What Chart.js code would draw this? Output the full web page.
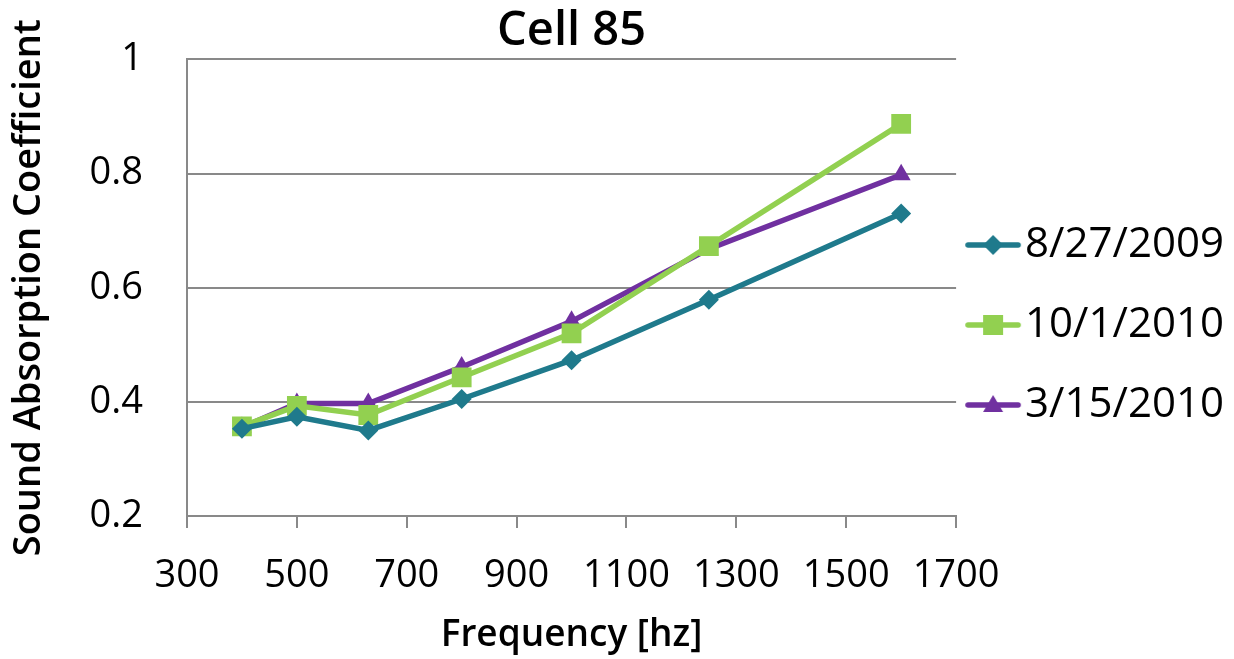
<!DOCTYPE html>
<html>
<head>
<meta charset="utf-8">
<script src="https://cdn.jsdelivr.net/npm/chart.js@4/dist/chart.umd.min.js"></script>
<style>
  html, body { margin: 0; padding: 0; background: #fff; }
  #wrap { width: 1234px; height: 659px; }
</style>
</head>
<body>
<div id="wrap"><canvas id="myChart"></canvas></div>
<script>
freqs = [400, 500, 630, 800, 1000, 1250, 1600];
seriesNames = ["8/27/2009", "10/1/2010", "3/15/2010"];
cell85_2009 = [0.353, 0.374, 0.350, 0.405, 0.473, 0.579, 0.730];
cell85_oct2010 = [0.357, 0.393, 0.377, 0.443, 0.520, 0.673, 0.887];
cell85_mar2010 = [0.355, 0.397, 0.397, 0.461, 0.541, 0.668, 0.798];
xTicks = [300, 500, 700, 900, 1100, 1300, 1500, 1700];
yTicks = [0.2, 0.4, 0.6, 0.8, 1];

colors = ["#1F7A8C", "#92D050", "#7030A0"];
markers = ["rectRot", "rect", "triangle"];
markerSizes = [10, 14, 11];
gray = "#898989";

function toPoints(values) {
    return values.map(function (v, i) { return { x: freqs[i], y: v }; });
}

// line + marker icon for the legend, drawn off-centre so the text sits close to it
function legendIcon(color, style) {
    var c = document.createElement('canvas');
    c.width = 68; c.height = 24;
    var g = c.getContext('2d');
    g.strokeStyle = color;
    g.lineWidth = 5.5;
    g.lineCap = 'round';
    g.beginPath();
    g.moveTo(3, 12); g.lineTo(53, 12);
    g.stroke();
    g.fillStyle = color;
    g.beginPath();
    var cx = 28;
    if (style === 'rect') {
        g.rect(cx - 10, 2, 20, 20);
    } else if (style === 'rectRot') {
        g.moveTo(cx, 2); g.lineTo(cx + 10, 12); g.lineTo(cx, 22); g.lineTo(cx - 10, 12);
    } else {
        g.moveTo(cx, 2); g.lineTo(cx + 10, 19); g.lineTo(cx - 10, 19);
    }
    g.closePath();
    g.fill();
    return c;
}

var datasets = [cell85_2009, cell85_oct2010, cell85_mar2010].map(function (vals, i) {
    return {
        label: seriesNames[i],
        data: toPoints(vals),
        borderColor: colors[i],
        backgroundColor: colors[i],
        borderWidth: 5.5,
        pointStyle: markers[i],
        pointRadius: markerSizes[i],
        pointHoverRadius: markerSizes[i],
        pointBorderWidth: 0,
        tension: 0
    };
});

var ctx = document.getElementById("myChart").getContext('2d');
var myChart = new Chart(ctx, {
    type: 'line',
    data: { datasets: datasets },
    options: {
        responsive: true,
        maintainAspectRatio: false,
        animation: false,
        layout: { padding: { left: 2, right: 0, top: 3, bottom: 12 } },
        plugins: {
            title: {
                display: true,
                text: 'Cell 85',
                color: '#000',
                fullSize: false,
                font: { family: 'Open Sans', size: 47, weight: '600' },
                padding: { top: 0, bottom: 0 }
            },
            legend: {
                position: 'right',
                labels: {
                    color: '#000',
                    font: { family: 'Open Sans', size: 42 },
                    usePointStyle: true,
                    pointStyleWidth: 10,
                    boxHeight: 24,
                    padding: 38,
                    generateLabels: function (chart) {
                        return chart.data.datasets.map(function (ds, i) {
                            return {
                                text: ds.label,
                                pointStyle: legendIcon(colors[i], markers[i]),
                                fillStyle: colors[i],
                                strokeStyle: colors[i],
                                lineWidth: 0,
                                datasetIndex: i
                            };
                        });
                    }
                }
            },
            tooltip: { enabled: false }
        },
        scales: {
            x: {
                type: 'linear',
                min: 300,
                max: 1700,
                afterBuildTicks: function (axis) {
                    axis.ticks = xTicks.map(function (v) { return { value: v }; });
                },
                afterFit: function (axis) {
                    axis.height = 131;
                },
                ticks: {
                    color: '#000',
                    font: { family: 'Open Sans', size: 38 },
                    padding: 25,
                    maxRotation: 0,
                    autoSkip: false,
                    callback: function (v) { return String(v); }
                },
                grid: { drawOnChartArea: false, drawTicks: true, tickLength: 12, color: gray, lineWidth: 2 },
                border: { color: gray, width: 2 },
                title: {
                    display: true,
                    text: 'Frequency [hz]',
                    color: '#000',
                    font: { family: 'Open Sans', size: 37, weight: '600' },
                    padding: { top: 0, bottom: -11 }
                }
            },
            y: {
                min: 0.2,
                max: 1,
                afterBuildTicks: function (axis) {
                    axis.ticks = yTicks.map(function (v) { return { value: v }; });
                },
                afterFit: function (axis) {
                    axis.width = 185;
                    axis.paddingTop = 0;
                    axis.paddingBottom = 0;
                },
                ticks: {
                    color: '#000',
                    font: { family: 'Open Sans', size: 38 },
                    padding: 44,
                    callback: function (v) { return String(Math.round(v * 10) / 10); }
                },
                grid: { color: gray, lineWidth: 2, drawTicks: false, tickLength: 0 },
                border: { color: gray, width: 2 },
                title: {
                    display: true,
                    text: 'Sound Absorption Coefficient',
                    color: '#000',
                    font: { family: 'Open Sans', size: 38, weight: '600' },
                    padding: { top: 4, bottom: 0 }
                }
            }
        }
    }
});
</script>
</body>
</html>
